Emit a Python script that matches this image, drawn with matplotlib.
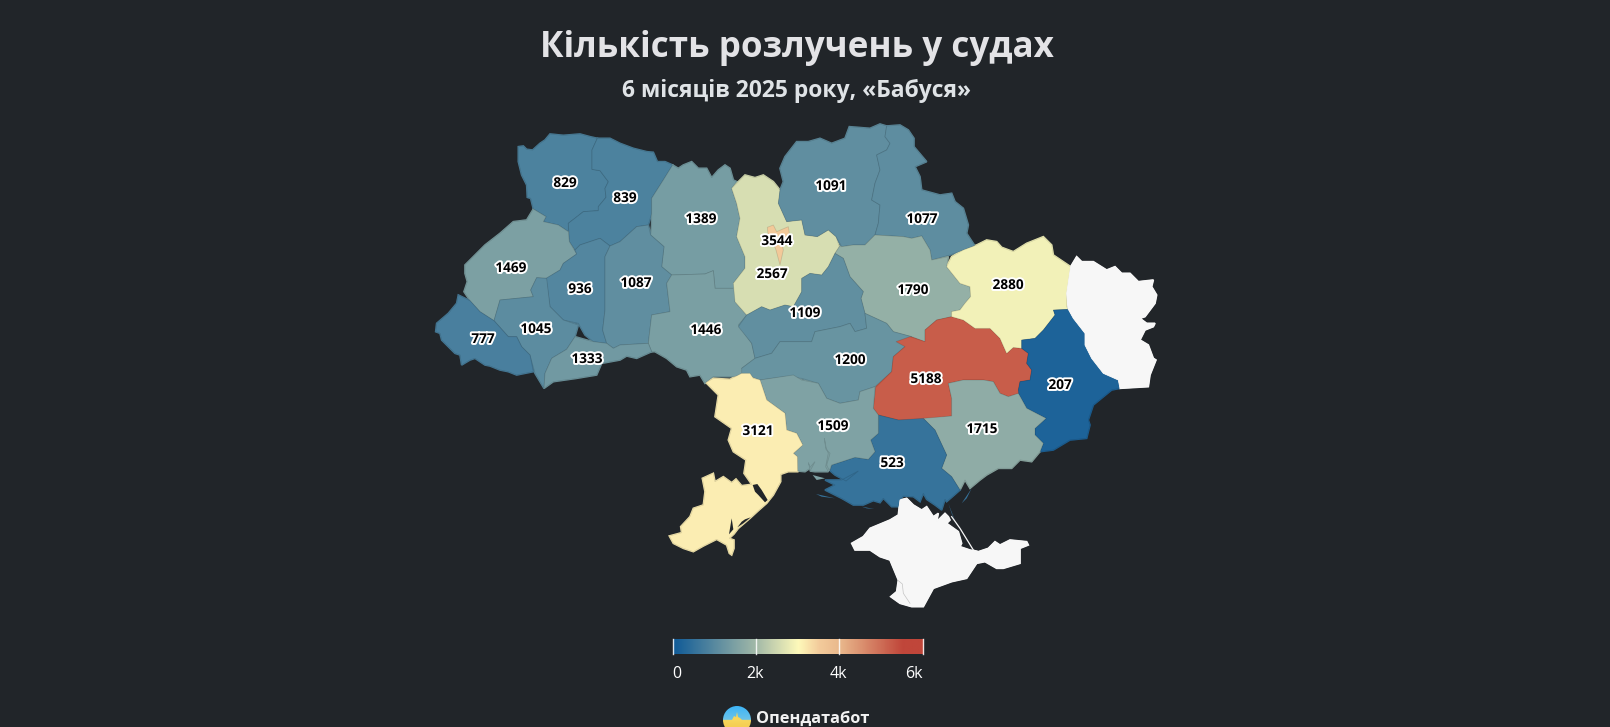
#!/usr/bin/env python3
import matplotlib
matplotlib.use("Agg")
import matplotlib.pyplot as plt
import matplotlib.patheffects as pe
import numpy as np
from matplotlib.colors import LinearSegmentedColormap
from matplotlib.patches import Circle, Polygon


def traced(x0, y0):
    return lambda pts: [(x0 + x / 3, y0 + y / 3) for x, y in pts]


west = traced(420, 110)
north = traced(730, 110)
south = traced(650, 340)
odesa_coast = traced(660, 440)
kherson_coast = traced(760, 410)

# region values, None = no data
REGIONS = ["Volyn", "Rivne", "Zhytomyr", "Lviv", "Ternopil", "Khmelnytskyi", "Vinnytsia",
           "Ivano-Frankivsk", "Zakarpattia", "Chernivtsi", "Kyiv obl", "Chernihiv", "Sumy",
           "Poltava", "Cherkasy", "Kirovohrad", "Dnipro", "Kharkiv", "Donetsk", "Zaporizhzhia",
           "Kherson", "Mykolaiv", "Odesa", "Kyiv", "Luhansk", "Crimea"]
VALUES = [829, 839, 1389, 1469, 936, 1087, 1446,
          1045, 777, 1333, 2567, 1091, 1077,
          1790, 1109, 1200, 5188, 2880, 207, 1715,
          523, 1509, 3121, 3544, None, None]

# label anchor points, same order (Luhansk and Crimea have none)
LABEL_X = [565, 625, 701, 511, 580, 636, 706, 536, 483, 587, 772, 831, 922,
           913, 805, 850, 926, 1008, 1060, 982, 892, 833, 758, 777]
LABEL_Y = [183, 198, 219, 268, 289, 283, 330, 329, 339, 359, 274, 186, 219,
           290, 313, 360, 379, 285, 385, 429, 463, 426, 431, 241]

# outlines, same order
OUTLINES = [
    west([(295,110),(310,108),(320,118),(338,120),(360,100),(375,90),(390,72),(430,76),(480,72),(510,80),(532,85),(516,120),(516,178),(540,182),(565,215),(555,235),(558,262),(535,290),(535,302),(490,305),(465,325),(445,340),(445,365),(415,345),(370,335),(378,320),(340,297),(332,265),(322,262),(320,225),(305,195),(295,155)]),
    west([(532,85),(570,85),(600,100),(640,115),(680,125),(700,127),(712,155),(735,155),(758,165),(730,210),(695,265),(695,310),(685,345),(650,350),(600,395),(570,408),(540,385),(480,405),(465,420),(448,395),(445,340),(490,305),(535,302),(535,290),(558,262),(555,235),(565,215),(540,182),(516,178),(516,120)]),
    west([(758,165),(775,175),(790,165),(815,155),(835,175),(860,175),(875,203),(895,180),(915,165),(930,175),(940,210),(950,215),(935,235),(950,280),(960,325),(950,380),(975,440),(975,475),(940,520),(950,535),(885,535),(880,482),(855,492),(755,495),(725,470),(732,410),(692,375),(695,345),(695,265),(730,210)]),
    west([(340,297),(378,320),(370,335),(415,345),(445,365),(448,395),(470,432),(430,460),(420,480),(380,505),(350,503),(332,540),(340,560),(240,570),(222,632),(180,605),(150,572),(132,545),(142,515),(135,490),(135,465),(195,405),(240,370),(280,335),(320,330)]),
    west([(465,420),(480,405),(540,385),(570,408),(555,440),(555,600),(548,660),(560,700),(520,695),(495,675),(475,640),(430,630),(390,590),(378,505),(420,480),(430,460),(470,432)]),
    west([(570,408),(600,395),(650,350),(685,345),(692,375),(732,410),(725,470),(755,495),(740,520),(750,605),(695,615),(685,700),(600,705),(580,715),(560,700),(548,660),(555,600),(555,440)]),
    west([(755,495),(855,492),(880,482),(885,535),(950,535),(945,575),(980,615),(955,645),(995,700),(1005,745),(965,775),(985,795),(940,800),(880,800),(855,820),(840,795),(810,800),(800,780),(770,770),(740,745),(705,725),(695,725),(685,700),(695,615),(750,605),(740,520)]),
    west([(240,570),(340,560),(332,540),(350,503),(380,505),(390,590),(430,630),(475,645),(465,680),(440,718),(395,745),(375,790),(372,835),(345,790),(330,735),(305,710),(290,680),(265,680),(222,632)]),
    west([(115,555),(150,572),(180,605),(222,632),(265,680),(290,680),(305,710),(330,735),(340,785),(290,795),(265,785),(240,780),(210,768),(195,765),(165,745),(150,750),(125,765),(120,735),(105,730),(85,710),(65,690),(60,670),(47,665),(50,640),(85,610),(110,580)]),
    west([(465,680),(500,690),(520,695),(560,700),(580,715),(600,705),(685,700),(695,725),(650,745),(620,738),(600,750),(545,760),(530,795),(470,805),(400,815),(372,835),(375,790),(395,745),(440,718)]),
    north([(5,235),(45,195),(75,203),(100,195),(130,215),(150,240),(145,280),(170,335),(215,330),(225,375),(262,380),(295,360),(318,380),(328,410),(315,430),(295,470),(275,495),(240,490),(215,505),(215,545),(190,590),(165,585),(120,600),(95,590),(50,615),(15,575),(10,520),(45,475),(45,440),(20,380),(30,325),(20,280)]),
    north([(150,240),(160,215),(150,175),(165,140),(200,95),(235,95),(270,85),(305,100),(345,85),(358,50),(420,55),(450,42),(470,48),(465,80),(480,100),(470,120),(440,135),(450,180),(435,220),(425,270),(450,285),(445,340),(435,375),(405,405),(370,405),(335,410),(318,380),(295,360),(262,380),(225,375),(215,330),(170,335),(145,280)]),
    north([(470,48),(510,45),(535,60),(552,85),(552,110),(590,155),(555,170),(570,200),(575,240),(630,255),(665,250),(675,275),(700,295),(715,345),(710,370),(735,408),(660,435),(605,450),(600,420),(575,378),(545,385),(520,380),(435,375),(445,340),(450,285),(425,270),(435,220),(450,180),(440,135),(470,120),(480,100),(465,80)]),
    north([(328,410),(335,410),(370,405),(405,405),(435,375),(520,380),(545,385),(575,378),(600,420),(605,450),(655,440),(650,470),(690,520),(720,530),(722,560),(705,580),(690,600),(665,605),(665,620),(620,630),(585,660),(585,695),(545,680),(490,665),(470,640),(405,610),(393,565),(400,545),(360,500),(340,445),(315,430)]),
    north([(315,430),(340,445),(360,500),(400,545),(393,565),(405,610),(410,655),(375,665),(360,640),(330,650),(255,665),(245,695),(150,695),(125,730),(75,745),(65,700),(25,650),(50,615),(95,590),(120,600),(165,585),(190,590),(215,545),(215,505),(240,490),(275,495),(295,470)]),
    north([(75,745),(125,730),(150,695),(245,695),(255,665),(330,650),(360,640),(375,665),(410,655),(405,610),(470,640),(490,665),(545,680),(525,710),(490,740),(485,785),(435,830),(390,845),(385,870),(330,880),(290,865),(265,820),(215,805),(165,800),(90,810),(35,790),(35,775)]),
    north([(490,740),(525,710),(498,695),(540,680),(585,695),(585,660),(620,630),(665,620),(700,630),(735,655),(780,655),(810,685),(830,730),(850,712),(875,715),(895,730),(890,760),(905,780),(900,810),(870,815),(865,840),(870,850),(835,860),(810,850),(790,815),(760,810),(700,810),(655,820),(665,865),(665,918),(580,930),(505,930),(445,915),(430,895),(437,832),(485,785)]),
    north([(650,470),(665,440),(700,420),(740,405),(770,390),(800,395),(815,412),(850,425),(890,400),(940,380),(965,405),(970,435),(1022,470),(1010,550),(1010,590),(1015,598),(970,600),(975,615),(940,660),(915,685),(875,690),(875,715),(850,712),(830,730),(810,685),(780,655),(735,655),(700,630),(665,620),(665,605),(690,600),(705,580),(722,560),(720,530),(690,520)]),
    north([(875,690),(915,685),(940,660),(975,615),(970,600),(1015,598),(1030,625),(1065,670),(1065,705),(1085,745),(1120,790),(1165,810),(1170,835)])
    + south([(1385,150),(1330,195),(1315,240),(1320,255),(1310,295),(1260,300),(1210,330),(1170,335),(1180,310),(1155,285),(1155,265),(1188,235),(1130,205),(1105,160)])
    + north([(865,840),(870,815),(900,810),(905,780),(890,760),(895,730),(875,715)]),
    south([(895,130),(940,120),(1000,120),(1030,125),(1050,160),(1075,170),(1105,160),(1130,205),(1188,235),(1155,265),(1155,285),(1180,310),(1170,335),(1145,365),(1110,360),(1085,385),(1045,385),(1010,405),(990,420),(960,445),(945,420),(930,450),(905,410),(875,385),(890,345),(855,270),(820,235),(905,228),(905,175)]),
    south([(685,225),(745,240),(820,235)])
    + kherson_coast([(525,60),(560,135),(545,175),(575,200),(600,240),(575,262),(560,275),(555,268),(545,300),(525,285),(500,268),(490,250),(480,275),(460,260),(430,258),(420,270),(415,290),(395,290),(370,265),(360,278),(340,272),(310,285),(280,285),(245,265),(215,250),(195,240),(225,225),(195,210),(245,210),(295,183),(258,213),(225,195),(210,182),(215,165),(285,142),(325,148),(345,125),(332,90),(355,70)]),
    south([(330,120),(430,105),(455,120),(505,130),(530,175),(570,190),(625,180),(630,155),(675,140),(670,205),(685,225)])
    + kherson_coast([(355,70),(332,90),(345,125),(325,148),(285,142),(215,165),(208,182),(200,165),(210,130),(198,118),(193,85),(198,112),(205,130),(197,170),(205,185),(165,185),(150,183),(165,155),(150,172),(145,158),(150,175),(135,185),(112,183)])
    + south([(442,350),(430,340),(458,315),(440,280),(410,270),(405,220),(350,180)]),
    south([(168,128),(190,115),(240,118),(275,100),(300,100),(310,115),(330,120),(350,180),(405,220),(410,270),(440,280),(458,315),(430,340),(442,350)])
    + odesa_coast([(413,95),(385,95),(362,103),(362,125),(340,165),(320,190),(295,212),(270,235),(235,265),(222,282),(208,295),(222,300),(222,325),(215,345),(208,340),(200,315),(170,298),(130,318),(100,335),(70,325),(40,310),(28,288),(65,278),(62,260),(90,230),(100,205),(130,195),(135,155),(127,115),(160,100),(165,125),(190,110),(215,128),(228,117),(245,137),(275,133),(252,100),(258,60),(220,35),(205,0)])
    + south([(245,265),(195,230),(205,165)]),
    north([(112,352),(130,345),(140,365),(175,350),(178,370),(155,395),(160,420),(150,465),(138,420),(130,400),(115,380)]),
    north([(1022,470),(1040,440),(1055,455),(1090,455),(1130,480),(1155,470),(1175,490),(1200,490),(1225,515),(1270,510),(1265,530),(1280,555),(1275,580),(1245,620),(1230,625),(1250,640),(1275,640),(1270,650),(1245,660),(1230,690),(1255,705),(1270,745),(1278,750),(1260,795),(1255,830),(1170,835),(1165,810),(1120,790),(1085,745),(1065,705),(1065,670),(1030,625),(1015,598),(1010,550)]),
    south([(605,610),(640,590),(660,565),(720,540),(745,525),(750,480),(770,475),(790,495),(815,510),(830,500),(850,530),(865,520),(860,545),(885,520),(895,530),(900,540),(890,550),(925,575),(935,610),(930,620),(960,630),(985,635),(1015,625),(1035,605),(1050,615),(1080,600),(1130,605),(1135,615),(1110,625),(1110,670),(1060,685),(1040,685),(1005,665),(980,670),(950,715),(905,725),(850,745),(820,800),(785,800),(750,790),(722,770),(740,755),(745,720),(720,660),(690,650),(660,630),(615,630)]),
]

# lakes and spits
LAKES = [
    odesa_coast([(278,135),(292,132),(305,150),(323,180),(315,187),(295,165),(285,155)]),
    odesa_coast([(207,283),(215,235),(220,268)]),
    odesa_coast([(232,262),(245,245),(255,238),(272,232),(250,250)]),
]
KHERSON_SPITS = [
    kherson_coast([(168,252),(225,265),(185,260)]),
    kherson_coast([(305,290),(343,297),(320,295)]),
    kherson_coast([(565,280),(590,345),(575,310)]),
    kherson_coast([(605,280),(635,235),(620,265)]),
]
KINBURN_SPIT = kherson_coast([(158,195),(195,205),(170,210)])
ARABAT_SPIT = south([(905,530),(930,565),(970,630),(985,635)])
SEVASTOPOL_BORDER = south([(745,722),(757,732),(760,760),(780,790)])

CMAP_POS = [0, 2000, 3000, 3500, 4000, 5500, 6000]
CMAP_COLORS = ["#0f5a97", "#a4baa8", "#fef9ba", "#f3cb9b", "#e9b88c", "#c0463a", "#c0463a"]
TICK_VALUES = [0, 2000, 4000, 6000]
TICK_LABELS = ["0", "2k", "4k", "6k"]

BG = "#212529"
NO_DATA = "#f7f7f7"
FONT = ["Open Sans", "DejaVu Sans"]

fig = plt.figure(figsize=(16.1, 7.27), dpi=100, facecolor=BG)
ax = fig.add_axes([0, 0, 1, 1])
ax.set_xlim(0, 1610)
ax.set_ylim(727, 0)
ax.axis("off")

cmap = LinearSegmentedColormap.from_list("divorces", [(p / 6000, c) for p, c in zip(CMAP_POS, CMAP_COLORS)])
edge = (0, 0, 0, 0.12)

# own colour underneath first, so traced borders leave no dark gaps
for val, outline in zip(VALUES, OUTLINES):
    face = NO_DATA if val is None else cmap(val / 6000)
    ax.add_patch(Polygon(outline, closed=True, facecolor=face, edgecolor=face, linewidth=1.2, zorder=1))
for val, outline in zip(VALUES, OUTLINES):
    face = NO_DATA if val is None else cmap(val / 6000)
    ax.add_patch(Polygon(outline, closed=True, facecolor=face,
                         edgecolor=face if val is None else edge, linewidth=0.6, zorder=1.1))

for lake in LAKES:
    ax.add_patch(Polygon(lake, closed=True, facecolor=BG, edgecolor="none", zorder=1.2))
for spit in KHERSON_SPITS:
    ax.add_patch(Polygon(spit, closed=True, facecolor=cmap(523 / 6000), edgecolor="none", zorder=1.2))
ax.add_patch(Polygon(KINBURN_SPIT, closed=True, facecolor=cmap(1509 / 6000), edgecolor="none", zorder=1.2))
ax.plot(*zip(*ARABAT_SPIT), color=NO_DATA, lw=0.9, zorder=1.2)
ax.plot(*zip(*SEVASTOPOL_BORDER), color="#c4c4c4", lw=0.5, zorder=1.2)

for val, x, y in zip(VALUES, LABEL_X, LABEL_Y):
    ax.text(x, y, str(val), ha="center", va="center", fontsize=9.8, fontweight="bold",
            family=FONT, color="black",
            path_effects=[pe.withStroke(linewidth=2.8, foreground="white")])

# titles
ax.text(797, 48, "Кількість розлучень у судах", ha="center", va="center", fontsize=25.2,
        fontweight="bold", family=FONT, color="#e3e3e6")
ax.text(796, 91, "6 місяців 2025 року, «Бабуся»", ha="center", va="center", fontsize=16.5,
        fontweight="bold", family=FONT, color="#dfe3e6")

# colour bar
bar_x0, bar_x1 = 672.5, 922.5
grad = np.linspace(0, 1, 500).reshape(1, -1)
ax.imshow(grad, cmap=cmap, extent=(bar_x0, bar_x1, 654, 639), aspect="auto", zorder=2)
tick_x = [bar_x0 + t / 6000 * (bar_x1 - bar_x0) for t in TICK_VALUES]
for t, lab, x in zip(TICK_VALUES, TICK_LABELS, tick_x):
    ax.plot([x, x], [639, 654], color="white", lw=1, alpha=0.85, zorder=3)
    # first and last labels stay inside the bar
    tx = {0: x + 4, 6000: x - 9}.get(t, x - 1)
    ax.text(tx, 674, lab, ha="center", va="center", fontsize=11.5, family=FONT, color="white")

# logo
logo_x, logo_y, logo_r = 737, 720, 14
sky = np.linspace(0, 1, 100).reshape(-1, 1)
logo_cmap = LinearSegmentedColormap.from_list("logo", [(0, "#3db5f7"), (0.49, "#6cc3e8"), (0.5, "#f7d65c"), (1, "#f3c64a")])
im = ax.imshow(sky, cmap=logo_cmap, extent=(logo_x - logo_r, logo_x + logo_r, logo_y + logo_r, logo_y - logo_r),
               aspect="auto", zorder=4)
im.set_clip_path(Circle((logo_x, logo_y), logo_r, transform=ax.transData))
ax.add_patch(Polygon([(logo_x - 14, logo_y + 1), (logo_x - 5, logo_y), (logo_x - 3, logo_y - 4), (logo_x - 1, logo_y - 3), (logo_x, logo_y - 8), (logo_x + 1, logo_y - 3),
                      (logo_x + 3, logo_y - 2), (logo_x + 5, logo_y), (logo_x + 14, logo_y + 1)], closed=True, facecolor="#f7d65c", edgecolor="none", zorder=5))
ax.text(756, 719, "Опендатабот", ha="left", va="center", fontsize=11.8, fontweight="bold",
        family=FONT, color="#f2f2f2")

ax.set_xlim(0, 1610)
ax.set_ylim(727, 0)
fig.savefig("out.png", dpi=100, facecolor=BG)
